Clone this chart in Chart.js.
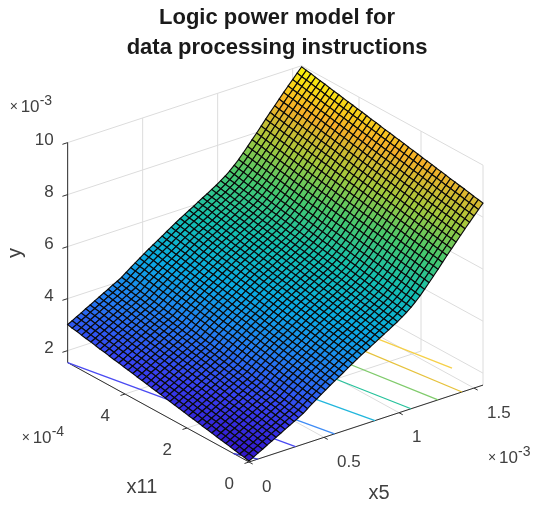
<!DOCTYPE html>
<html>
<head>
<meta charset="utf-8">
<title>Logic power model</title>
<script src="https://cdn.jsdelivr.net/npm/chart.js@4"></script>
<style>
  html, body { margin: 0; padding: 0; background: #fff; }
  canvas { display: block; filter: blur(0.6px); }
</style>
</head>
<body>
<canvas id="chart" width="541" height="505"></canvas>
<script>
// values, x5 and y in 1e-3, x11 in 1e-4
const x5Values = [0, 0.03, 0.06, 0.09, 0.12, 0.15, 0.18, 0.21, 0.24, 0.27, 0.30, 0.33, 0.36, 0.39, 0.42, 0.45, 0.48, 0.51,
    0.54, 0.57, 0.60, 0.63, 0.66, 0.69, 0.72, 0.75, 0.78, 0.81, 0.84, 0.87, 0.90, 0.93, 0.96, 0.99, 1.02, 1.05,
    1.08, 1.11, 1.14, 1.17, 1.20, 1.23, 1.26, 1.29, 1.32, 1.35, 1.38, 1.41, 1.44, 1.47, 1.50, 1.53, 1.56];
const x11Values = [0, 0.15, 0.30, 0.45, 0.60, 0.75, 0.90, 1.05, 1.20, 1.35, 1.50, 1.65, 1.80, 1.95, 2.10, 2.25, 2.40, 2.55, 2.70, 2.85,
    3.00, 3.15, 3.30, 3.45, 3.60, 3.75, 3.90, 4.05, 4.20, 4.35, 4.50, 4.65, 4.80, 4.95, 5.10, 5.25, 5.40, 5.55, 5.70, 5.85];
// y along the x11 = 0 edge
const yAlongX5 = [1.58, 1.67, 1.77, 1.86, 1.96, 2.05, 2.15, 2.24, 2.34, 2.43, 2.53, 2.62, 2.72, 2.85, 2.98, 3.10, 3.22, 3.34,
    3.46, 3.57, 3.68, 3.79, 3.91, 4.02, 4.13, 4.24, 4.34, 4.44, 4.54, 4.65, 4.75, 4.85, 4.96, 5.06, 5.18, 5.30,
    5.44, 5.60, 5.77, 5.96, 6.16, 6.36, 6.56, 6.77, 6.98, 7.18, 7.38, 7.58, 7.78, 7.97, 8.16, 8.35, 8.54];
// how much y gains going along x11
const yRiseAlongX11 = [0, 0.04, 0.07, 0.11, 0.15, 0.18, 0.22, 0.25, 0.29, 0.33, 0.36, 0.40, 0.44, 0.47, 0.51, 0.55, 0.58, 0.62, 0.66, 0.69,
    0.73, 0.76, 0.80, 0.84, 0.87, 0.91, 0.95, 0.98, 1.02, 1.05, 1.09, 1.13, 1.16, 1.20, 1.24, 1.27, 1.31, 1.35, 1.38, 1.42];

// contour lines on the floor, each from (startX5, startX11) to (endX5, endX11)
const contourStartX5 = [0.06, 0.31, 0.57, 0.84, 1.08, 1.26, 1.42, 1.56];
const contourStartX11 = [0, 0, 0, 0, 0, 0, 0, 1.0];
const contourEndX5 = [0, 0, 0.43, 0.69, 0.95, 1.13, 1.30, 1.44];
const contourEndX11 = [0.5, 5.85, 2.58, 2.65, 2.95, 3.18, 3.35, 3.7];
const contourColors = ['#3f3fd8', '#4a4af2', '#3f8cf5', '#22b6dc', '#26c29c', '#80cb6c', '#e6c23c', '#f6d048'];

const x5Ticks = [0, 0.5, 1, 1.5];
const x5TickLabels = ['0', '0.5', '1', '1.5'];
const x11Ticks = [0, 2, 4];
const x11TickLabels = ['0', '2', '4'];
const yTicks = [2, 4, 6, 8, 10];
const yTickLabels = ['2', '4', '6', '8', '10'];

const x5Max = 1.56, x11Max = 5.85, yMin = 1.54, yMax = 10;
const titleLines = ['Logic power model for', 'data processing instructions'];

const colorStops = [[50, 20, 200], [55, 65, 240], [35, 125, 240], [10, 170, 225], [20, 190, 175], [70, 200, 110], [165, 200, 60], [245, 175, 40], [250, 245, 10]];

// view of the 3d box, x and y are what the chart scales get
function project(x5, x11, y) {
    return {
        x: 249 + 150 * x5 - 31 * x11,
        y: 43 + 49.3 * x5 + 17 * x11 + 26 * (y - yMin)
    };
}

function surfaceColor(t) {
    const pos = Math.min(Math.max(t, 0), 1) * (colorStops.length - 1);
    const i = Math.min(Math.floor(pos), colorStops.length - 2);
    const f = pos - i;
    const c = colorStops[i].map((v, k) => Math.round(v + (colorStops[i + 1][k] - v) * f));
    return `rgb(${c[0]},${c[1]},${c[2]})`;
}

const datasets = [];

function addLine(points, color, width) {
    datasets.push({ data: points, showLine: true, fill: false, borderColor: color, borderWidth: width, pointRadius: 0 });
}

const surfaceValue = (i, j) => yAlongX5[i] + yRiseAlongX11[j];
const zLow = surfaceValue(0, 0);
const zHigh = surfaceValue(x5Values.length - 1, x11Values.length - 1);

// surface cells first so they end up on top
for (let i = 0; i < x5Values.length - 1; i++) {
    for (let j = 0; j < x11Values.length - 1; j++) {
        const corners = [[i, j], [i + 1, j], [i + 1, j + 1], [i, j + 1], [i, j]];
        const avg = (surfaceValue(i, j) + surfaceValue(i + 1, j) + surfaceValue(i + 1, j + 1) + surfaceValue(i, j + 1)) / 4;
        datasets.push({
            data: corners.map(c => project(x5Values[c[0]], x11Values[c[1]], surfaceValue(c[0], c[1]))),
            showLine: true,
            fill: 'shape',
            backgroundColor: surfaceColor((avg - zLow) / (zHigh - zLow)),
            borderColor: '#0a0a0a',
            borderWidth: 1.15,
            pointRadius: 0
        });
    }
}

// contours
contourColors.forEach((color, k) => {
    addLine([project(contourStartX5[k], contourStartX11[k], yMin), project(contourEndX5[k], contourEndX11[k], yMin)], color, 1.3);
});

// axis lines and ticks
const axisColor = '#303030';
addLine([project(0, x11Max, yMin), project(0, x11Max, yMax)], axisColor, 1);
addLine([project(0, 0, yMin), project(x5Max, 0, yMin)], axisColor, 1);
addLine([project(0, 0, yMin), project(0, x11Max, yMin)], axisColor, 1);
yTicks.forEach(v => addLine([project(0, x11Max, v), project(-0.035, x11Max, v)], axisColor, 1));
x5Ticks.forEach(v => addLine([project(v, 0, yMin), project(v, -0.12, yMin)], axisColor, 1));
x11Ticks.forEach(v => addLine([project(0, v, yMin), project(-0.03, v, yMin)], axisColor, 1));

// grid on floor and back walls
const gridColor = '#dcdcdc';
x5Ticks.forEach(v => {
    addLine([project(v, 0, yMin), project(v, x11Max, yMin)], gridColor, 1);
    addLine([project(v, x11Max, yMin), project(v, x11Max, yMax)], gridColor, 1);
});
x11Ticks.forEach(v => {
    addLine([project(0, v, yMin), project(x5Max, v, yMin)], gridColor, 1);
    addLine([project(x5Max, v, yMin), project(x5Max, v, yMax)], gridColor, 1);
});
yTicks.forEach(v => {
    addLine([project(0, x11Max, v), project(x5Max, x11Max, v)], gridColor, 1);
    addLine([project(x5Max, x11Max, v), project(x5Max, 0, v)], gridColor, 1);
});

const labelColor = '#404040';
const labelFont = '17px "Liberation Sans"';
const nameFont = '20px "Liberation Sans"';

function putText(ctx, text, x, y, align, font) {
    ctx.textAlign = align;
    ctx.font = font || labelFont;
    ctx.fillText(text, x, y);
}

// ×10^n written as real text
function putExponent(ctx, x, y, exp) {
    putText(ctx, '×', x, y, 'left', '14px "Liberation Sans"');
    putText(ctx, '10', x + 11, y, 'left');
    putText(ctx, exp, x + 30, y - 6, 'left', '14px "Liberation Sans"');
}

const axisLabels = {
    id: 'axisLabels',
    afterDraw(chart) {
        const { ctx, scales } = chart;
        const at = p => ({ x: scales.x.getPixelForValue(p.x), y: scales.y.getPixelForValue(p.y) });
        ctx.save();
        ctx.fillStyle = labelColor;
        ctx.textBaseline = 'middle';

        yTicks.forEach((v, k) => {
            const p = at(project(0, x11Max, v));
            putText(ctx, yTickLabels[k], p.x - 14, p.y - 2, 'right');
        });
        x5Ticks.forEach((v, k) => {
            const p = at(project(v, 0, yMin));
            putText(ctx, x5TickLabels[k], p.x + 13, p.y + 25, 'left');
        });
        x11Ticks.forEach((v, k) => {
            const p = at(project(0, v, yMin));
            putText(ctx, x11TickLabels[k], p.x - 15, p.y + 22, 'right');
        });

        const top = at(project(0, x11Max, yMax));
        putExponent(ctx, top.x - 58, top.y - 35, '-3');
        const left = at(project(0, x11Max, yMin));
        putExponent(ctx, left.x - 46, left.y + 76, '-4');
        const right = at(project(x5Max, 0, yMin));
        putExponent(ctx, right.x + 5, right.y + 73, '-3');

        putText(ctx, 'x5', 379, 493, 'center', nameFont);
        putText(ctx, 'x11', 142, 487, 'center', nameFont);
        ctx.translate(15, 253);
        ctx.rotate(-Math.PI / 2);
        putText(ctx, 'y', 0, 0, 'center', nameFont);
        ctx.restore();
    }
};

new Chart(document.getElementById('chart'), {
    type: 'scatter',
    data: { datasets },
    options: {
        responsive: false,
        animation: false,
        events: [],
        layout: { padding: { left: 13, top: 0, right: 0, bottom: 0 } },
        scales: {
            x: { type: 'linear', min: 13, max: 541, display: false },
            y: { type: 'linear', min: 0, max: 441, display: false }
        },
        plugins: {
            legend: { display: false },
            tooltip: { enabled: false },
            title: {
                display: true,
                fullSize: false,
                text: titleLines,
                color: '#1a1a1a',
                font: { family: '"Liberation Sans"', size: 22, weight: 'bold', lineHeight: 1.364 },
                padding: { top: 3, bottom: 1 }
            }
        }
    },
    plugins: [axisLabels]
});
</script>
</body>
</html>
